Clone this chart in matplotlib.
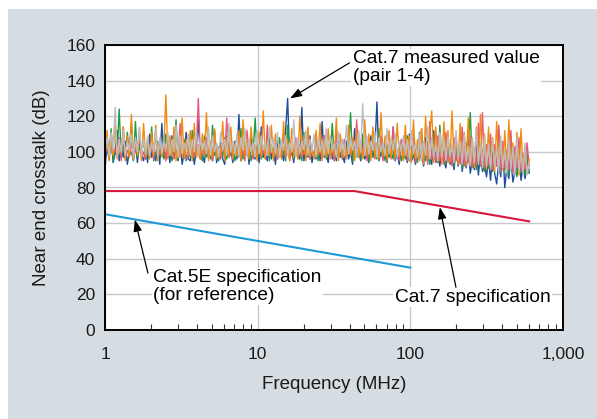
import numpy as np
import matplotlib
matplotlib.use("Agg")
import matplotlib.pyplot as plt
import matplotlib.patches as patches

plt.rcParams['font.family'] = ['Liberation Sans', 'DejaVu Sans']

# measured NEXT, pair 1-4, sweep 1..600 MHz
blue = [91, 103, 96, 109, 94, 99, 112, 95, 101, 97, 106, 93, 100, 115, 96, 104, 94, 108, 98, 95, 102,
        94, 110, 97, 100, 95, 105, 93, 116, 98, 96, 103, 94, 109, 97, 101, 95, 107, 93, 99, 111, 96,
        95, 104, 93, 100, 118, 96, 98, 94, 107, 97, 102, 95, 112, 94, 99, 105, 96, 93, 109, 97, 101,
        94, 106, 96, 121, 95, 100, 97, 104, 93, 110, 98, 96, 103, 94, 114, 97, 99, 95, 108, 96, 102,
        93, 107, 97, 100, 95, 112, 130, 96, 101, 94, 105, 98, 96, 125, 95, 103, 97, 109, 94, 100, 96,
        104, 95, 117, 97, 99, 94, 108, 96, 102, 95, 111, 97, 98, 94, 106, 96, 100, 93, 113, 97, 101,
        95, 105, 96, 99, 94, 109, 97, 102, 128, 95, 100, 96, 107, 94, 103, 97, 114, 95, 99, 93, 106,
        96, 101, 94, 110, 95, 98, 93, 104, 96, 100, 92, 108, 95, 97, 93, 112, 94, 99, 92, 103, 95,
        91, 106, 93, 98, 90, 102, 92, 109, 89, 97, 91, 101, 88, 95, 90, 104, 87, 99, 89, 93, 86,
        96, 84, 100, 88, 82, 94, 86, 103, 80, 91, 85, 97, 83, 89, 87, 99, 84, 92, 85, 95, 88]
green = [96, 108, 98, 113, 95, 101, 99, 124, 97, 104, 96, 111, 98, 100, 95, 117, 97, 103, 99, 107, 96,
         102, 97, 114, 95, 99, 106, 98, 101, 96, 110, 97, 104, 95, 99, 118, 96, 102, 98, 107, 95, 100,
         97, 112, 96, 103, 98, 99, 95, 109, 97, 101, 96, 115, 98, 104, 95, 100, 97, 108, 96, 102, 98,
         105, 95, 99, 97, 113, 96, 101, 98, 106, 95, 100, 119, 97, 103, 96, 99, 98, 110, 95, 104, 97,
         100, 96, 108, 98, 102, 95, 115, 97, 99, 96, 105, 98, 101, 95, 111, 97, 103, 96, 100, 98, 107,
         95, 102, 97, 109, 96, 100, 98, 116, 95, 104, 97, 99, 96, 107, 98, 101, 122, 95, 103, 97, 100,
         96, 110, 98, 102, 95, 106, 97, 99, 96, 113, 98, 101, 95, 104, 97, 100, 96, 108, 98, 103, 95,
         101, 96, 109, 95, 103, 97, 100, 94, 111, 96, 102, 95, 106, 93, 99, 96, 104, 94, 115, 95, 101,
         93, 107, 95, 100, 92, 105, 94, 98, 91, 110, 93, 102, 122, 92, 99, 90, 106, 92, 101, 89, 97,
         91, 104, 89, 99, 92, 113, 88, 100, 90, 96, 87, 106, 89, 98, 86, 102, 88, 94, 87, 99, 89]
pink = [98, 105, 96, 111, 99, 102, 97, 108, 95, 114, 98, 101, 97, 106, 96, 103, 99, 110, 97, 100, 96,
        107, 98, 102, 96, 112, 97, 100, 99, 105, 95, 109, 98, 103, 96, 101, 97, 116, 98, 104, 96, 100,
        99, 106, 97, 102, 130, 96, 101, 98, 108, 97, 103, 95, 110, 99, 100, 96, 105, 98, 119, 97, 102,
        96, 104, 98, 109, 97, 101, 95, 112, 99, 103, 96, 100, 98, 107, 97, 102, 96, 115, 98, 101, 97,
        105, 96, 100, 98, 110, 97, 103, 95, 101, 99, 108, 96, 104, 97, 100, 98, 113, 96, 102, 97, 106,
        98, 101, 96, 109, 97, 104, 99, 100, 95, 111, 98, 103, 96, 107, 97, 101, 99, 105, 96, 118, 98,
        102, 97, 106, 95, 100, 98, 112, 96, 103, 97, 109, 95, 101, 98, 104, 96, 114, 97, 100, 95, 107,
        96, 110, 95, 103, 97, 108, 94, 101, 96, 113, 95, 105, 93, 117, 96, 102, 94, 109, 95, 104, 93,
        111, 94, 103, 92, 108, 95, 100, 93, 114, 92, 105, 94, 109, 91, 102, 93, 116, 92, 122, 91, 104,
        93, 110, 90, 104, 92, 115, 89, 106, 91, 101, 90, 112, 88, 103, 91, 108, 89, 99, 90, 105, 92]
orange = [97, 112, 95, 106, 98, 118, 96, 104, 99, 114, 95, 109, 97, 121, 96, 105, 98, 113, 95, 116, 97,
          104, 96, 111, 98, 115, 95, 107, 97, 102, 132, 96, 109, 98, 114, 95, 105, 97, 119, 96, 107, 98,
          112, 95, 116, 97, 104, 96, 110, 98, 122, 95, 106, 97, 113, 96, 103, 98, 117, 95, 108, 97, 114,
          96, 105, 98, 112, 95, 118, 97, 107, 96, 114, 98, 104, 95, 111, 97, 123, 96, 106, 98, 115, 95,
          110, 97, 104, 96, 117, 98, 107, 95, 113, 97, 105, 96, 120, 98, 109, 95, 114, 97, 103, 96, 112,
          98, 116, 95, 107, 97, 113, 96, 105, 98, 119, 95, 110, 97, 104, 96, 115, 98, 108, 95, 112, 97,
          106, 96, 118, 98, 110, 95, 114, 97, 105, 96, 122, 98, 109, 95, 112, 97, 107, 96, 116, 98, 104,
          95, 115, 97, 109, 94, 118, 96, 107, 95, 113, 93, 120, 96, 110, 123, 94, 114, 95, 108, 93, 117,
          96, 112, 94, 123, 95, 109, 93, 116, 94, 111, 92, 119, 93, 108, 91, 114, 94, 121, 92, 110, 90,
          114, 91, 108, 89, 117, 92, 106, 90, 112, 88, 118, 91, 105, 89, 111, 87, 113, 90, 103, 88, 96]
gray = [99, 108, 98, 111, 101, 125, 97, 107, 100, 112, 98, 106, 101, 110, 97, 108, 100, 114, 98, 107, 99,
        109, 98, 105, 100, 113, 97, 108, 99, 106, 101, 111, 98, 107, 100, 115, 97, 109, 99, 105, 101, 110,
        98, 107, 100, 112, 97, 108, 101, 106, 99, 114, 98, 109, 100, 105, 97, 111, 101, 107, 98, 116, 100,
        106, 99, 110, 97, 108, 101, 113, 98, 107, 100, 105, 97, 112, 99, 109, 101, 106, 98, 114, 100, 108,
        99, 111, 97, 107, 101, 109, 98, 105, 100, 118, 97, 108, 99, 106, 101, 112, 98, 107, 100, 110, 97,
        108, 100, 106, 98, 113, 99, 109, 101, 105, 97, 111, 100, 107, 98, 115, 99, 108, 101, 106, 97, 112,
        100, 127, 98, 109, 99, 106, 101, 111, 97, 108, 100, 105, 98, 113, 99, 107, 101, 110, 97, 106, 100,
        109, 98, 107, 96, 112, 99, 105, 97, 110, 95, 106, 98, 114, 96, 108, 97, 104, 95, 111, 97, 107,
        95, 109, 97, 104, 94, 112, 96, 106, 93, 110, 95, 103, 92, 108, 94, 113, 93, 105, 91, 109, 92,
        104, 90, 107, 92, 102, 89, 109, 91, 101, 88, 106, 90, 103, 87, 108, 89, 100, 88, 105, 87, 94]
measured = [(blue, '#1d4f9e'), (green, '#1f9a45'), (pink, '#e8557f'),
            (orange, '#f28a12'), (gray, '#bdbdbd')]
freq = np.geomspace(1, 600, len(blue))

# specification limits
cat5e_f = [1, 100]
cat5e_db = [65, 35]
cat7_f = [1, 43, 600]
cat7_db = [78, 78, 61]

fig = plt.figure(figsize=(5.97, 4.19), dpi=100, facecolor='white')
fig.patches.append(patches.Rectangle((8 / 597, 0), 1, 410 / 419, transform=fig.transFigure,
                                     facecolor='#d5dde2', edgecolor='none', zorder=-1))
ax = fig.add_axes([105 / 597, 1 - 330 / 419, 458 / 597, 285 / 419])
ax.set_facecolor('white')

for vals, col in measured:
    ax.plot(freq, vals, color=col, lw=1.0, zorder=3)

ax.plot(cat7_f, cat7_db, color='#d4183c', lw=1.5, zorder=4)
ax.plot(cat5e_f, cat5e_db, color='#1e9ad8', lw=1.5, zorder=4)

ax.set_xscale('log')
ax.set_xlim(1, 1000)
ax.set_ylim(0, 160)
ax.set_yticks(range(0, 161, 20))
ax.set_xticks([1, 10, 100, 1000])
ax.set_xticklabels(['1', '10', '100', '1,000'])
ax.grid(True, which='major', color='#c6c8cc', lw=1, zorder=0)
ax.set_axisbelow(True)
ax.tick_params(which='major', length=0, labelsize=12.5, colors='#1a1a1a', pad=7)
ax.tick_params(axis='x', which='major', pad=12)
ax.tick_params(axis='x', which='minor', direction='in', length=4, width=0.8, color='#333333')
ax.tick_params(axis='y', which='minor', length=0)
for s in ax.spines.values():
    s.set_linewidth(1.4)
    s.set_color('black')
    s.set_zorder(6)

ax.set_xlabel('Frequency (MHz)', fontsize=13.5, color='#1a1a1a', labelpad=10)
ax.set_ylabel('Near end crosstalk (dB)', fontsize=13.5, color='#1a1a1a', labelpad=12)

box = dict(facecolor='white', edgecolor='none', pad=1)
arrow = dict(arrowstyle='-|>,head_length=0.7,head_width=0.25', color='black', lw=0.9,
             shrinkA=0, shrinkB=0)

ax.text(42, 157, 'Cat.7 measured value\n(pair 1-4)', fontsize=13.8, va='top', ha='left',
        linespacing=1.05, bbox=box, zorder=7)
ax.annotate('', xy=(16.3, 130), xytext=(40, 150), arrowprops=arrow, zorder=7)

ax.text(2.06, 34, 'Cat.5E specification\n(for reference)', fontsize=13.8, va='top', ha='left',
        linespacing=1.05, bbox=box, zorder=7)
ax.annotate('', xy=(1.57, 62), xytext=(1.91, 32), arrowprops=arrow, zorder=7)

ax.text(79, 18.5, 'Cat.7 specification', fontsize=13.8, va='center', ha='left',
        bbox=box, zorder=7)
ax.annotate('', xy=(156, 69), xytext=(199, 24), arrowprops=arrow, zorder=7)

fig.savefig('out.png', dpi=100, facecolor=fig.get_facecolor())
